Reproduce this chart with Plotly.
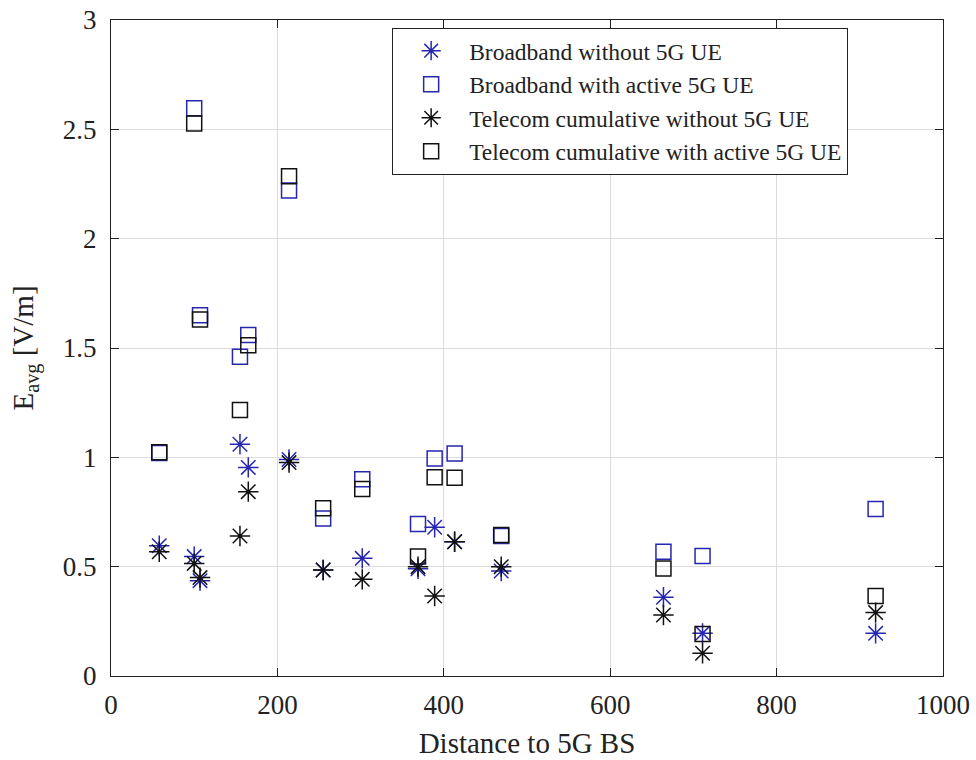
import plotly.graph_objects as go

distance = [58, 100, 107, 155, 165, 214, 255, 302, 369, 389, 413, 469, 664, 711, 919]

broadband_without = [0.596, 0.546, 0.436, 1.06, 0.954, 0.99, 0.485, 0.538, 0.49, 0.68, 0.614, 0.48, 0.36, 0.195, 0.195]
broadband_with = [1.02, 2.596, 1.65, 1.46, 1.56, 2.22, 0.72, 0.9, 0.695, 0.995, 1.018, 0.64, 0.568, 0.549, 0.764]
telecom_without = [0.568, 0.515, 0.45, 0.64, 0.843, 0.976, 0.485, 0.442, 0.5, 0.366, 0.614, 0.5, 0.279, 0.104, 0.29]
telecom_with = [1.023, 2.527, 1.63, 1.216, 1.513, 2.286, 0.767, 0.855, 0.546, 0.909, 0.907, 0.645, 0.492, 0.192, 0.366]

x_ticks = [0, 200, 400, 600, 800, 1000]
y_ticks = [0, 0.5, 1, 1.5, 2, 2.5, 3]
y_tick_labels = ["0", "0.5", "1", "1.5", "2", "2.5", "3"]

BLUE = "#2626b0"
BLACK = "#111111"

fig = go.Figure()
series = [
    ("Broadband without 5G UE", broadband_without, "asterisk-open", BLUE, 17),
    ("Broadband with active 5G UE", broadband_with, "square-open", BLUE, 15),
    ("Telecom cumulative without 5G UE", telecom_without, "asterisk-open", BLACK, 17),
    ("Telecom cumulative with active 5G UE", telecom_with, "square-open", BLACK, 15),
]
for name, vals, sym, col, sz in series:
    fig.add_trace(go.Scatter(
        x=distance, y=vals, mode="markers", name=name,
        marker=dict(symbol=sym, size=sz, color=col, line=dict(color=col, width=1.5)),
    ))

font_family = "Liberation Serif, Times New Roman, serif"
fig.update_layout(
    width=976, height=760,
    margin=dict(l=111, r=33, t=20, b=84, autoexpand=False),
    paper_bgcolor="white", plot_bgcolor="white",
    font=dict(family=font_family, size=27, color="#222222"),
    showlegend=True,
    legend=dict(
        x=0.886, y=0.988, xanchor="right", yanchor="top",
        bgcolor="white", bordercolor="#222222", borderwidth=1,
        font=dict(family=font_family, size=23.5, color="#222222"),
        itemwidth=66, tracegroupgap=0,
    ),
    xaxis=dict(
        range=[0, 1000], tickvals=x_ticks, ticktext=[str(v) for v in x_ticks],
        showgrid=True, gridcolor="#dcdcdc", gridwidth=1,
        showline=True, linecolor="#222222", linewidth=1.2, mirror="allticks",
        ticks="inside", ticklen=8, tickcolor="#222222",
        zeroline=False, tickfont=dict(size=27), ticklabelstandoff=4,
        ticklabeloverflow="allow", automargin=False,
        title=dict(text="Distance to 5G BS", font=dict(size=29), standoff=14),
    ),
    yaxis=dict(
        range=[0, 3], tickvals=y_ticks, ticktext=y_tick_labels,
        showgrid=True, gridcolor="#dcdcdc", gridwidth=1,
        showline=True, linecolor="#222222", linewidth=1.2, mirror="allticks",
        ticks="inside", ticklen=8, tickcolor="#222222",
        zeroline=False, tickfont=dict(size=27), ticklabelstandoff=8,
        ticklabeloverflow="allow", automargin=False,
        title=dict(text="E<sub>avg</sub> [V/m]", font=dict(size=29), standoff=20),
    ),
)

fig.write_html(
    "out.html",
    config={"displayModeBar": False},
    post_script="document.body.style.margin='0';document.body.style.overflow='hidden';",
)
